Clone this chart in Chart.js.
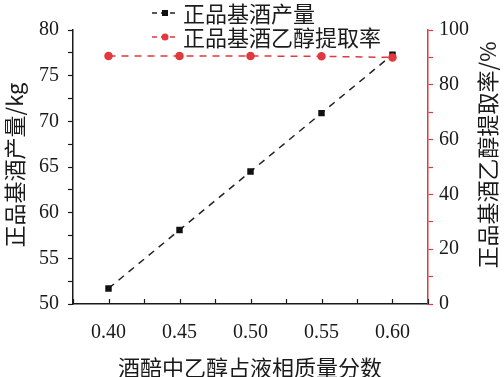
<!DOCTYPE html>
<html>
<head>
<meta charset="utf-8">
<script src="https://cdn.jsdelivr.net/npm/chart.js@4.4.0/dist/chart.umd.min.js"></script>
<style>
html,body{margin:0;padding:0;background:#fff}
#wrap{width:504px;height:377px;position:relative}
</style>
</head>
<body>
<div id="wrap"><canvas id="c"></canvas></div>
<script>
var fracs = [0.40, 0.45, 0.50, 0.55, 0.60]
var yieldKg = [51.7, 58.1, 64.5, 70.9, 77.3]
var extractRate = [90.5, 90.5, 90.5, 90.4, 90.0]
var yieldName = '正品基酒产量'
var rateName = '正品基酒乙醇提取率'
var xTitle = '酒醅中乙醇占液相质量分数'
var yTitle = '正品基酒产量/kg'
var y1Title = '正品基酒乙醇提取率/%'

var RED = '#e0393e'
var INK = '#1a1a1a'
var FONT = "'Liberation Serif','Noto Sans CJK SC',serif"
var CJK = "'Noto Sans CJK SC','Liberation Serif',serif"

Chart.defaults.font.family = FONT
Chart.defaults.font.size = 20
Chart.defaults.color = INK

function pts(xs, ys){
    var out = []
    for (var i = 0; i < xs.length; i++) out.push({x: xs[i], y: ys[i]})
    return out
}

// titles, legend and inward x ticks
var extras = {
    id: 'extras',
    afterDraw: function(chart){
        var c = chart.ctx
        var x = chart.scales.x
        var a = chart.chartArea
        c.save()
        // bottom ticks point inward
        c.strokeStyle = INK
        c.lineWidth = 1.2
        x.ticks.forEach(function(t){
            var px = Math.round(x.getPixelForValue(t.value)) + 0.5
            c.beginPath()
            c.moveTo(px, a.bottom)
            c.lineTo(px, a.bottom - 5)
            c.stroke()
        })
        c.fillStyle = INK
        c.font = '22px ' + CJK
        c.textAlign = 'center'
        c.textBaseline = 'middle'
        c.fillText(xTitle, 250, 368)
        c.save()
        c.translate(15, 165)
        c.rotate(-Math.PI/2)
        c.fillText(yTitle, 0, 0)
        c.restore()
        c.save()
        c.translate(488, 155)
        c.rotate(-Math.PI/2)
        c.fillText(y1Title, 0, 0)
        c.restore()
        // legend
        var rows = [chart.data.datasets[1], chart.data.datasets[0]]
        rows.forEach(function(ds, i){
            var cy = [13, 37][i]
            c.strokeStyle = ds.borderColor
            c.lineWidth = 1.5
            c.setLineDash([5, 4])
            c.beginPath()
            c.moveTo(152, cy)
            c.lineTo(178, cy)
            c.stroke()
            c.setLineDash([])
            c.fillStyle = ds.pointBackgroundColor
            if (ds.pointStyle === 'rect') c.fillRect(162, cy - 3, 6, 6)
            else { c.beginPath(); c.arc(165, cy, 3.5, 0, Math.PI*2); c.fill() }
            c.fillStyle = INK
            c.textAlign = 'left'
            c.fillText(ds.label, 183, cy + 1)
        })
        c.restore()
    }
}

var ctx = document.getElementById('c').getContext('2d')
var chart1 = new Chart(ctx, {
    type: 'line',
    plugins: [extras],
    data: {
        datasets: [{
            label: rateName,
            data: pts(fracs, extractRate),
            yAxisID: 'y1',
            borderColor: RED,
            backgroundColor: RED,
            pointBackgroundColor: RED,
            pointBorderColor: RED,
            borderWidth: 1.5,
            borderDash: [7, 6],
            pointStyle: 'circle',
            pointRadius: 3.5,
            order: 0
        }, {
            label: yieldName,
            data: pts(fracs, yieldKg),
            yAxisID: 'y',
            borderColor: '#222',
            backgroundColor: '#111',
            pointBackgroundColor: '#111',
            pointBorderColor: '#111',
            borderWidth: 1.5,
            borderDash: [7, 6],
            pointStyle: 'rect',
            pointRadius: 3.5,
            order: 1
        }]
    },
    options: {
        responsive: true,
        maintainAspectRatio: false,
        animation: false,
        layout: {padding: {top: 30, right: 0, left: 0, bottom: 0}},
        plugins: {legend: {display: false}, tooltip: {enabled: false}},
        scales: {
            x: {
                type: 'linear',
                min: 0.375,
                max: 0.625,
                afterFit: function(s){ s.height = 73 },
                border: {display: true, color: INK, width: 1.5},
                grid: {display: true, drawOnChartArea: false, drawTicks: false},
                ticks: {
                    stepSize: 0.025,
                    padding: 17,
                    maxRotation: 0,
                    autoSkip: false,
                    callback: function(v){
                        var k = Math.round(v * 1000)
                        return (k % 50 === 0 && k >= 400 && k <= 600) ? v.toFixed(2) : ''
                    }
                }
            },
            y: {
                position: 'left',
                min: 50,
                max: 80,
                afterFit: function(s){ s.width = 73 },
                border: {display: true, color: INK, width: 1.5},
                grid: {drawOnChartArea: false, tickLength: 5, color: INK, tickWidth: 1.2},
                ticks: {
                    stepSize: 2.5,
                    padding: 9,
                    autoSkip: false,
                    callback: function(v){ return v % 5 === 0 ? v : '' }
                }
            },
            y1: {
                position: 'right',
                min: 0,
                max: 100,
                afterFit: function(s){ s.width = 76 },
                border: {display: true, color: RED, width: 1.5},
                grid: {drawOnChartArea: false, tickLength: 5, color: RED, tickWidth: 1.2},
                ticks: {
                    stepSize: 10,
                    padding: 6,
                    autoSkip: false,
                    callback: function(v){ return v % 20 === 0 ? v : '' }
                }
            }
        }
    }
})
</script>
</body>
</html>
